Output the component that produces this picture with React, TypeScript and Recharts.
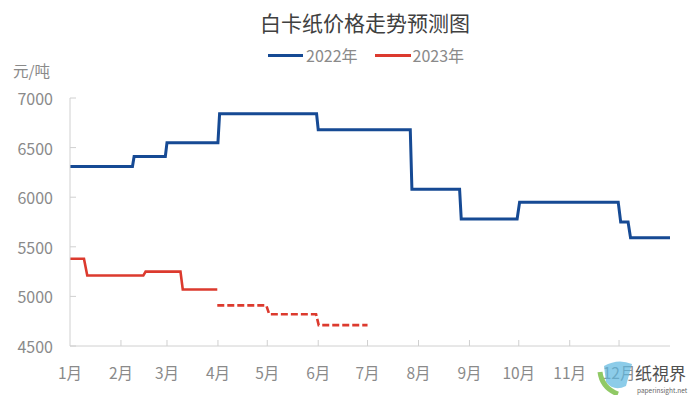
import React from 'react';
import { LineChart, Line, XAxis, YAxis } from 'recharts';

const title = '白卡纸价格走势预测图';
const unitLabel = '元/吨';
const seriesNames = ['2022年', '2023年'];
const monthLabels = ['1月', '2月', '3月', '4月', '5月', '6月', '7月', '8月', '9月', '10月', '11月', '12月'];
const monthStartDays = [0, 31, 59, 90, 120, 151, 181, 212, 243, 273, 304, 334];
const yTicks = [4500, 5000, 5500, 6000, 6500, 7000];

const price2022Days = [0, 38, 39, 58, 59, 90, 91, 150, 151, 207, 208, 237, 238, 272, 273.5, 333.5, 335, 339.5, 341, 365];
const price2022 = [6310, 6310, 6410, 6410, 6550, 6550, 6840, 6840, 6680, 6680, 6080, 6080, 5780, 5780, 5950, 5950, 5750, 5750, 5590, 5590];

const price2023Days = [0, 8.5, 10.5, 44.6, 46, 67.2, 68.6, 89.6];
const price2023 = [5380, 5380, 5210, 5210, 5250, 5250, 5070, 5070];

const forecast2023Days = [89.6, 119.4, 121.2, 149.7, 151.3, 181];
const forecast2023 = [4910, 4910, 4820, 4820, 4710, 4710];

const toRows = (days: number[], vals: number[]) => days.map((d, i) => ({ d, v: vals[i] }));
const rows2022 = toRows(price2022Days, price2022);
const rows2023 = toRows(price2023Days, price2023);
const rowsForecast = toRows(forecast2023Days, forecast2023);

const BLUE = '#164a94';
const RED = '#dc3a2e';
const GRAY = '#8a8a8a';
const AXIS = '#d0d0d0';
const FONT = '"Noto Sans CJK SC", "Noto Sans", sans-serif';

const XTick = (props: any) => {
  const { x, y, payload, index } = props;
  return (
    <g>
      {index > 0 && <line x1={x} x2={x} y1={y} y2={y - 6} stroke={AXIS} strokeWidth={1} />}
      <text x={x} y={y + 26} textAnchor="middle" dominantBaseline="central" fill={GRAY} fontSize={15.5} fontFamily={FONT}>
        {monthLabels[monthStartDays.indexOf(payload.value)]}
      </text>
    </g>
  );
};

const YTick = (props: any) => {
  const { x, y, payload } = props;
  return (
    <g>
      <line x1={x} x2={x + 6} y1={y} y2={y} stroke={AXIS} strokeWidth={1} />
      <text x={x - 17} y={y} textAnchor="end" dominantBaseline="central" fill={GRAY} fontSize={16} fontFamily={FONT}>
        {payload.value}
      </text>
    </g>
  );
};

export default function App() {
  return (
    <div style={{ position: 'absolute', left: 0, top: 0, width: 699, height: 395, background: '#fff', fontFamily: FONT }}>
      <div style={{ position: 'absolute', left: 0, width: 730, top: 7, textAlign: 'center', fontSize: 21, color: '#404040', lineHeight: '30px' }}>
        {title}
      </div>
      <div style={{ position: 'absolute', left: 268, top: 44, height: 22, display: 'flex', alignItems: 'center', fontSize: 16, color: GRAY }}>
        <span style={{ display: 'inline-block', width: 35, height: 3, background: BLUE, marginRight: 3 }} />
        <span>{seriesNames[0]}</span>
        <span style={{ display: 'inline-block', width: 36, height: 3, background: RED, marginLeft: 17, marginRight: 2 }} />
        <span>{seriesNames[1]}</span>
      </div>
      <div style={{ position: 'absolute', left: 13, top: 59, fontSize: 15.5, color: GRAY, lineHeight: '22px' }}>{unitLabel}</div>
      <LineChart width={699} height={395} data={rows2022} margin={{ top: 98, left: 10, right: 29, bottom: 19 }}>
        <XAxis
          dataKey="d"
          type="number"
          domain={[0, 365]}
          ticks={monthStartDays}
          interval={0}
          height={30}
          tickSize={0}
          tickMargin={0}
          tickLine={false}
          stroke={AXIS}
          tick={<XTick />}
          allowDataOverflow
        />
        <YAxis
          type="number"
          domain={[4500, 7000]}
          ticks={yTicks}
          interval={0}
          width={60}
          tickSize={0}
          tickMargin={0}
          tickLine={false}
          stroke={AXIS}
          tick={<YTick />}
          allowDataOverflow
        />
        <Line data={rows2022} dataKey="v" type="linear" stroke={BLUE} strokeWidth={3} dot={false} isAnimationActive={false} />
        <Line data={rows2023} dataKey="v" type="linear" stroke={RED} strokeWidth={2.6} dot={false} isAnimationActive={false} />
        <Line data={rowsForecast} dataKey="v" type="linear" stroke={RED} strokeWidth={2.6} strokeDasharray="7 3" dot={false} isAnimationActive={false} />
      </LineChart>
      <svg style={{ position: 'absolute', left: 596, top: 356 }} width={103} height={39}>
        <path d="M8 10 Q22 2 36 8 L30 30 Q18 36 10 26 Z" fill="#5bb7e0" opacity={0.7} />
        <path d="M4 16 Q6 32 22 38" stroke="#7cc04a" strokeWidth={5} fill="none" opacity={0.85} />
        <text x={39} y={16} fontSize={17} fill="#505050" fontFamily={'"Noto Sans CJK TC", serif'} dominantBaseline="central">纸視界</text>
        <text x={41} y={33.5} fontSize={6.5} fill="#666" fontFamily={FONT} dominantBaseline="central">paperinsight.net</text>
      </svg>
    </div>
  );
}
